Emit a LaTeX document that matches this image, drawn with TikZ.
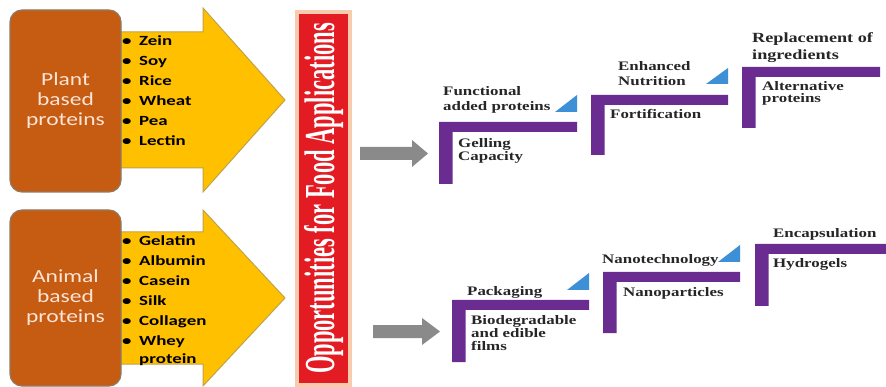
\documentclass[tikz,border=0pt]{standalone}
\usepackage{fontspec}
\usepackage{graphicx}
\newfontfamily\boxfont[FakeStretch=1.27]{Carlito}
\newfontfamily\listfont[FakeStretch=1.35]{Carlito}
\newfontfamily\serfont[FakeStretch=1.3]{Liberation Serif}
\newfontfamily\barfont{Liberation Serif}
\definecolor{boxfill}{HTML}{C65B12}
\definecolor{boxedge}{HTML}{8F7A66}
\definecolor{boxtext}{HTML}{FCE4D6}
\definecolor{yel}{HTML}{FFC000}
\definecolor{yeledge}{HTML}{BFA24A}
\definecolor{barred}{HTML}{E31B23}
\definecolor{glow}{HTML}{F8CBAD}
\definecolor{purp}{HTML}{6A2C90}
\definecolor{triblue}{HTML}{3D8FD6}
\definecolor{agray}{HTML}{8A8A8A}
\definecolor{ink}{HTML}{262626}
\newcommand\bl{\makebox[17pt][l]{\textbullet}}
\newcommand\fst{\rule{0pt}{11pt}}
\newcommand\Lbar[4]{\fill[purp] (#1,#2) -- (#3,#2) -- (#3,#2+10) -- (#1+13.5,#2+10) -- (#1+13.5,#4) -- (#1,#4) -- cycle;}
\newcommand\Tri[3]{\fill[triblue] (#1,#2) -- (#1+22,#2) -- (#1+22,#3) -- cycle;}
\begin{document}
\begin{tikzpicture}[x=1pt,y=-1pt,
  srcbox/.style={draw=boxedge, line width=1.2pt, fill=boxfill, rounded corners=12pt,
    minimum width=111pt, text=boxtext, align=center,
    font=\boxfont\fontsize{18.5}{20}\selectfont},
  yarrow/.style={fill=yel, draw=yeledge, line width=1pt},
  listtext/.style={anchor=north west, inner sep=0pt, align=left, text=black,
    font=\listfont\bfseries\fontsize{14}{20}\selectfont},
  ser/.style={anchor=north west, inner sep=0pt, align=left, text=ink,
    font=\serfont\bfseries\fontsize{13}{#1}\selectfont},
  ser/.default=14]
\useasboundingbox (0,0) rectangle (886,387);
\fill[white] (0,0) rectangle (886,387);

% yellow arrows
\draw[yarrow] (110,32) -- (203,32) -- (203,8) -- (285,100) -- (203,192) -- (203,168) -- (110,168) -- cycle;
\draw[yarrow] (110,232) -- (203,232) -- (203,210) -- (285,298) -- (203,386) -- (203,364) -- (110,364) -- cycle;

% source boxes
\node[srcbox, minimum height=182pt] (plant) at (65.5,101) {Plant\\based\\proteins};
\node[srcbox, minimum height=176pt] (animal) at (65.5,298) {Animal\\based\\proteins};

% lists
\node[listtext] (plist) at (122,34) {\fst\bl Zein\\\bl Soy\\\bl Rice\\\bl Wheat\\\bl Pea\\\bl Lectin};
\node[listtext] (alist) at (122,234) {\fst\bl Gelatin\\\bl Albumin\\\bl Casein\\\bl Silk\\\bl Collagen\\\bl Whey\\[-2pt]\hspace*{17pt}protein};

% red bar
\node[fill=barred, draw=glow, line width=4pt, minimum width=53pt, minimum height=373pt, inner sep=0pt] (bar) at (323.5,198.5) {};
\node[rotate=90, text=white, inner sep=0pt, font=\barfont\bfseries\fontsize{22.5}{24}\selectfont] (bartext) at (bar.center) {\scalebox{1}[1.9]{Opportunities for Food Applications}};

% gray arrows
\fill[agray] (360,147) -- (412,147) -- (412,140) -- (428,153.5) -- (412,167) -- (412,160) -- (360,160) -- cycle;
\fill[agray] (373,325) -- (422,325) -- (422,318) -- (440,331.5) -- (422,345) -- (422,338) -- (373,338) -- cycle;

% purple steps
\Lbar{439}{122}{577}{184}
\Lbar{591}{95}{728}{155}
\Lbar{742}{67}{880}{128}
\Lbar{452}{300}{589}{362}
\Lbar{603}{272}{740}{333}
\Lbar{755}{244}{886}{306}

% blue triangles
\Tri{555}{112}{95}
\Tri{706}{84}{68}
\Tri{567}{290}{273}
\Tri{718}{262}{245}

% labels
\node[ser=15] (fa) at (443,84) {\fst Functional\\added proteins};
\node[ser=12.5] (gc) at (458,136.5) {\fst Gelling\\Capacity};
\node[ser=15] (en) at (618,59) {\fst Enhanced\\Nutrition};
\node[ser] (fo) at (610,107) {\fst Fortification};
\node[anchor=north west, inner sep=0pt, align=left, text=ink,
  font=\serfont\bfseries\fontsize{14}{17}\selectfont] (ri) at (752,31) {\fst Replacement of\\ingredients};
\node[ser=12.5] (ap) at (762,79) {\fst Alternative\\proteins};
\node[ser] (pk) at (467,284) {\fst Packaging};
\node[ser=13] (bd) at (471,313) {\fst Biodegradable\\and edible\\films};
\node[ser] (nt) at (602,252) {\fst Nanotechnology};
\node[ser] (np) at (623,285) {\fst Nanoparticles};
\node[ser] (ec) at (773,226) {\fst Encapsulation};
\node[ser] (hg) at (773,256) {\fst Hydrogels};
\end{tikzpicture}
\end{document}
